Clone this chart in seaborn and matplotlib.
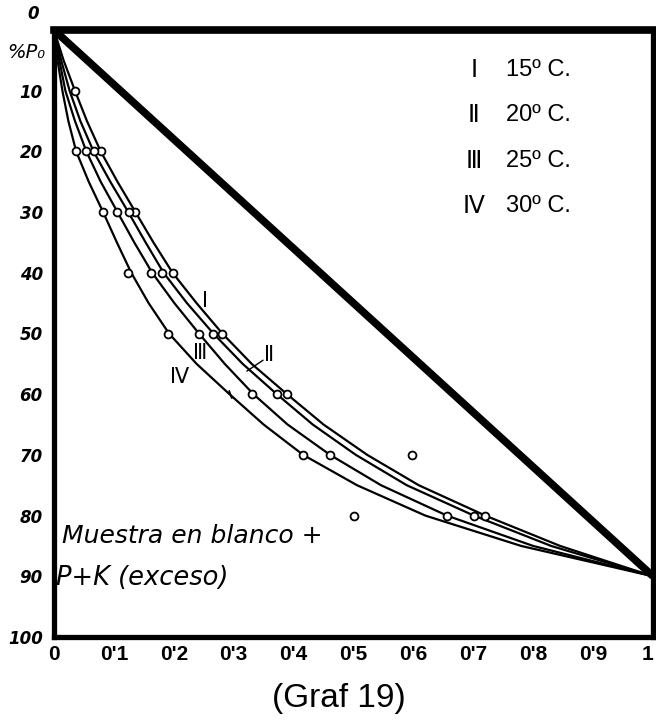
import matplotlib
matplotlib.use("Agg")
import matplotlib.pyplot as plt
import numpy as np
import pandas as pd
import seaborn as sns

# ---------------- data ----------------
levels = [0, 5, 10, 15, 20, 25, 30, 35, 40, 45, 50, 55, 60, 65, 70, 75, 80, 85, 90]   # % P0
curve_I   = [0, 0.016, 0.035, 0.055, 0.078, 0.106, 0.136, 0.166, 0.198, 0.238, 0.281,
             0.330, 0.389, 0.450, 0.523, 0.609, 0.720, 0.845, 1.0]
curve_II  = [0, 0.012, 0.026, 0.044, 0.066, 0.094, 0.124, 0.153, 0.183, 0.222, 0.266,
             0.315, 0.372, 0.432, 0.504, 0.589, 0.701, 0.830, 1.0]
curve_III = [0, 0.009, 0.019, 0.035, 0.054, 0.078, 0.106, 0.134, 0.164, 0.201, 0.242,
             0.285, 0.333, 0.390, 0.461, 0.546, 0.656, 0.800, 1.0]
curve_IV  = [0, 0.006, 0.014, 0.024, 0.037, 0.058, 0.082, 0.105, 0.129, 0.158, 0.192,
             0.238, 0.293, 0.350, 0.416, 0.506, 0.620, 0.780, 1.0]

pts_I_x   = [0.035, 0.078, 0.136, 0.198, 0.281, 0.389, 0.720]
pts_I_y   = [10, 20, 30, 40, 50, 60, 80]
pts_II_x  = [0.066, 0.125, 0.181, 0.266, 0.372, 0.701]
pts_II_y  = [20, 30, 40, 50, 60, 80]
pts_III_x = [0.054, 0.106, 0.162, 0.242, 0.331, 0.461, 0.656]
pts_III_y = [20, 30, 40, 50, 60, 70, 80]
pts_IV_x  = [0.036, 0.082, 0.124, 0.191, 0.416]
pts_IV_y  = [20, 30, 40, 50, 70]
stray_x   = [0.598, 0.500]
stray_y   = [70, 80]
tick_IV_x = [0.293]
tick_IV_y = [60]

diag_x = [0.0, 1.0]
diag_y = [0, 90]

series_names = ["I", "II", "III", "IV"]
roman_glyphs = ["Ⅰ", "Ⅱ", "Ⅲ", "Ⅳ"]
temps = ["15º C.", "20º C.", "25º C.", "30º C."]

xticks = [0, 0.1, 0.2, 0.3, 0.4, 0.5, 0.6, 0.7, 0.8, 0.9, 1.0]
xtick_labels = ["0", "0'1", "0'2", "0'3", "0'4", "0'5", "0'6", "0'7", "0'8", "0'9", "1"]
yticks = [10, 20, 30, 40, 50, 60, 70, 80, 90, 100]
ytick_labels = ["10", "20", "30", "40", "50", "60", "70", "80", "90", "100"]

# ---------------- tables ----------------
curves = {"I": curve_I, "II": curve_II, "III": curve_III, "IV": curve_IV}
df_curves = pd.concat(
    [pd.DataFrame({"x": v, "y": levels, "serie": k}) for k, v in curves.items()],
    ignore_index=True)
pts = {"I": (pts_I_x, pts_I_y), "II": (pts_II_x, pts_II_y),
       "III": (pts_III_x, pts_III_y), "IV": (pts_IV_x, pts_IV_y),
       "extra": (stray_x, stray_y)}
df_pts = pd.concat(
    [pd.DataFrame({"x": v[0], "y": v[1], "serie": k}) for k, v in pts.items()],
    ignore_index=True)
df_diag = pd.DataFrame({"x": diag_x, "y": diag_y})

# ---------------- figure ----------------
sns.set_style("white")
plt.rcParams["font.family"] = ["DejaVu Sans"]
for key in ["text.color", "axes.labelcolor", "xtick.color", "ytick.color"]:
    plt.rcParams[key] = "black"

fig = plt.figure(figsize=(6.56, 7.23), dpi=100)
ax = fig.add_axes([54 / 656, 1 - 637 / 723, 599 / 656, 607 / 723])

sns.lineplot(data=df_diag, x="x", y="y", color="black", lw=5.5,
             solid_capstyle="butt", ax=ax, zorder=2)
sns.lineplot(data=df_curves, x="x", y="y", hue="serie",
             palette={s: "black" for s in series_names}, sort=False,
             lw=1.6, legend=False, ax=ax, zorder=2)
sns.scatterplot(data=df_pts, x="x", y="y", s=32, color="white",
                edgecolor="black", linewidth=1.3, ax=ax, zorder=3,
                legend=False)
sns.scatterplot(x=tick_IV_x, y=tick_IV_y, marker=(2, 0, 20), s=40,
                color="black", edgecolor="black", linewidth=1.3, ax=ax,
                zorder=3, legend=False)

ax.set_xlim(0, 1)
ax.set_ylim(100, 0)
ax.set_xlabel("")
ax.set_ylabel("")

ax.set_xticks(xticks)
xlabs = ax.set_xticklabels(xtick_labels, family=["Liberation Sans", "DejaVu Sans"],
                           fontsize=15, fontweight="bold")
xlabs[-1].set_horizontalalignment("right")
ax.set_yticks(yticks)
ax.set_yticklabels(ytick_labels, family=["DejaVu Sans"], fontsize=12,
                   fontstyle="italic", fontweight="bold")
ax.tick_params(axis="x", direction="in", length=5, width=1.5, pad=6)
ax.tick_params(axis="y", direction="out", length=6, width=1.5, pad=2)

for side, w in {"top": 5.5, "left": 3.8, "right": 3.8, "bottom": 3.8}.items():
    ax.spines[side].set_visible(True)
    ax.spines[side].set_linewidth(w)
    ax.spines[side].set_color("black")

# top "0" and %P0
fig.text(33 / 656, 1 - 14 / 723, "0", fontsize=12, fontstyle="italic",
         fontweight="bold", ha="center", va="center")
fig.text(26 / 656, 1 - 52 / 723, "%P₀", fontsize=14, fontstyle="italic",
         ha="center", va="center")

# legend block
leg_rows = [70, 115, 161, 206]
for g, t, row in zip(roman_glyphs, temps, leg_rows):
    fig.text(474 / 656, 1 - row / 723, g, family=["DejaVu Sans"],
             fontsize=17, ha="center", va="center")
    fig.text(506 / 656, 1 - row / 723, t, family=["Liberation Sans", "DejaVu Sans"],
             fontsize=17, ha="left", va="center")

# curve labels
roman = dict(family=["DejaVu Sans"], fontsize=15, ha="center", va="center")
ax.text(0.252, 44.6, roman_glyphs[0], **roman)
ax.text(0.359, 53.5, roman_glyphs[1], **roman)
ax.text(0.244, 53.2, roman_glyphs[2], **roman)
ax.text(0.210, 57.2, roman_glyphs[3], **roman)
ax.plot([0.349, 0.322], [54.4, 56.2], color="black", lw=1.0)

# sample description
ax.text(0.014, 83.4, "Muestra en blanco +", family=["DejaVu Sans"], fontsize=18,
        fontstyle="italic", ha="left", va="center")
ax.text(0.004, 90.2, "P+K (exceso)", family=["DejaVu Sans"], fontsize=18.5,
        fontstyle="italic", ha="left", va="center")

fig.text(339 / 656, 1 - 698 / 723, "(Graf 19)", family=["Liberation Sans", "DejaVu Sans"],
         fontsize=24, ha="center", va="center")

fig.savefig("out.png", dpi=100)
